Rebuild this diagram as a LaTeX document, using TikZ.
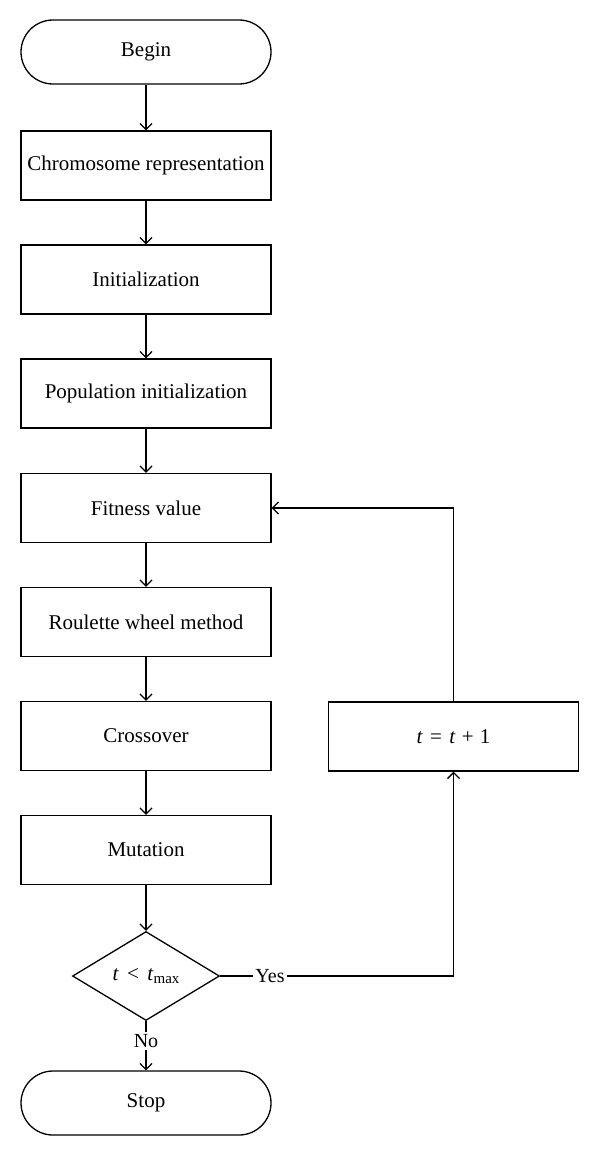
\documentclass[tikz,border=0pt]{standalone}
\usepackage{fontspec}
\setmainfont{Liberation Serif}
\usetikzlibrary{arrows.meta,shapes.geometric}
\begin{document}
\begin{tikzpicture}[x=1pt,y=-1pt,
  line width=1.3pt,
  every node/.style={font=\fontsize{21}{24}\selectfont},
  proc/.style={draw,rectangle,minimum width=250pt,minimum height=69pt,inner sep=0pt},
  term/.style={draw,rectangle,rounded corners=32pt,minimum width=250pt,minimum height=64pt,inner sep=0pt},
  dec/.style={draw,diamond,aspect=1.65,minimum width=147pt,minimum height=89pt,inner sep=0pt},
  lab/.style={inner sep=1.5pt,font=\fontsize{20}{22}\selectfont},
  arr/.style={-{Straight Barb[length=6pt,width=12pt]}}]
\useasboundingbox (0,0) rectangle (600,1156);
\node[term] (begin) at (146,52) {Begin};
\node[proc] (chrom) at (146,165.5) {Chromosome representation};
\node[proc] (init) at (146,279.5) {Initialization};
\node[proc] (pop) at (146,393.5) {Population initialization};
\node[proc] (fit) at (146,508) {Fitness value};
\node[proc] (roul) at (146,622) {Roulette wheel method};
\node[proc] (cross) at (146,736) {Crossover};
\node[proc] (mut) at (146,850) {Mutation};
\node[dec] (cond) at (146,976) {\textit{t}\hspace{0.4em}<\hspace{0.4em}\textit{t}\raisebox{-0.4ex}{\fontsize{15}{16}\selectfont max}};
\node[term] (stop) at (146,1103) {Stop};
\node[proc] (inc) at (453.5,736.5) {\textit{t}\hspace{0.35em}=\hspace{0.35em}\textit{t}\hspace{0.3em}+\hspace{0.3em}1};
\node[lab] (yes) at (270,976) {Yes};
\node[lab] (no) at (146,1041) {No};
\draw[arr] (begin) -- (chrom);
\draw[arr] (chrom) -- (init);
\draw[arr] (init) -- (pop);
\draw[arr] (pop) -- (fit);
\draw[arr] (fit) -- (roul);
\draw[arr] (roul) -- (cross);
\draw[arr] (cross) -- (mut);
\draw[arr] (mut) -- (cond);
\draw (cond.east) -- (yes.west);
\draw[arr] (yes.east) -| (inc.south);
\draw[arr] (inc.north) |- (fit.east);
\draw (cond.south) -- (no.north);
\draw[arr] (no.south) -- (stop.north);
\end{tikzpicture}
\end{document}
